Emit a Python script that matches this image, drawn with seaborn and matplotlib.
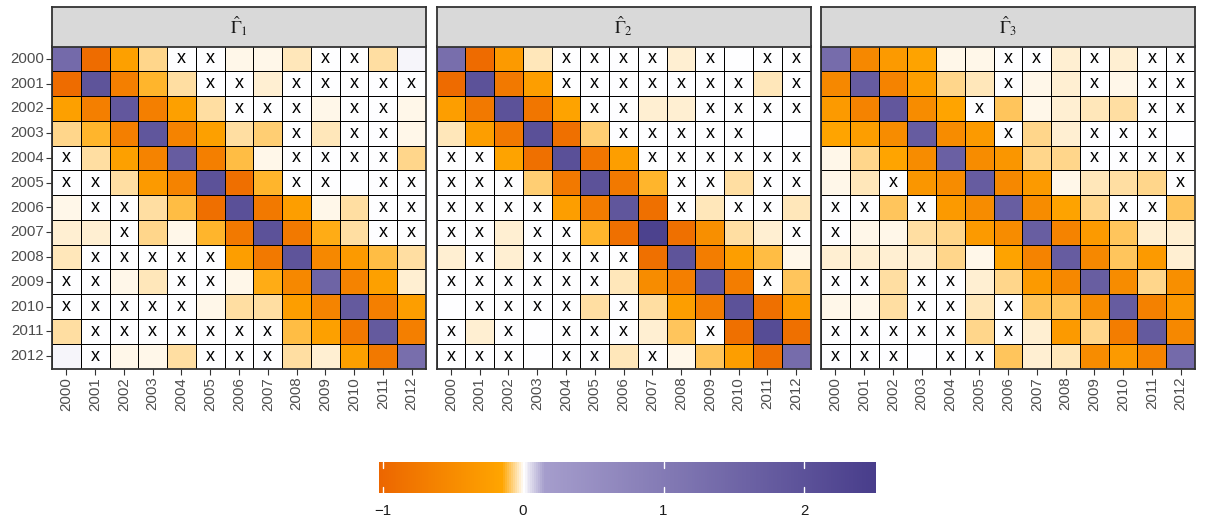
import numpy as np
import pandas as pd
import matplotlib
matplotlib.use("Agg")
import matplotlib.pyplot as plt
import seaborn as sns
from matplotlib.colors import LinearSegmentedColormap, Normalize
from matplotlib.cm import ScalarMappable

years = [str(y) for y in range(2000, 2013)]
panel_titles = [r"$\hat{\Gamma}_1$", r"$\hat{\Gamma}_2$", r"$\hat{\Gamma}_3$"]

gamma1_values = [
    [1.40, -0.94, -0.22, -0.07, 0, 0, -0.004, -0.012, -0.04, 0, 0, -0.05, 0.012],
    [-0.94, 1.95, -0.68, -0.12, -0.045, 0, 0, -0.025, 0, 0, 0, 0, 0],
    [-0.22, -0.68, 1.85, -0.68, -0.22, -0.045, 0, 0, 0, -0.004, 0, 0, -0.006],
    [-0.07, -0.12, -0.68, 1.90, -0.62, -0.22, -0.045, -0.08, 0, -0.04, 0, 0, -0.008],
    [0, -0.045, -0.22, -0.62, 1.75, -0.68, -0.11, -0.005, 0, 0, 0, 0, -0.06],
    [0, 0, -0.045, -0.30, -0.62, 2.00, -0.90, -0.12, 0, 0, -0.003, 0, 0],
    [-0.004, 0, 0, -0.045, -0.11, -0.90, 2.05, -0.75, -0.25, -0.008, -0.05, 0, 0],
    [-0.02, -0.03, 0, -0.07, -0.005, -0.12, -0.75, 2.00, -0.75, -0.14, -0.045, 0, 0],
    [-0.04, 0, 0, 0, 0, 0, -0.25, -0.75, 1.95, -0.55, -0.30, -0.11, -0.045],
    [0, 0, -0.004, -0.04, 0, 0, -0.008, -0.14, -0.55, 1.55, -0.62, -0.22, -0.025],
    [0, 0, 0, 0, 0, -0.004, -0.045, -0.045, -0.25, -0.60, 1.80, -0.68, -0.25],
    [-0.045, 0, 0, 0, 0, 0, 0, 0, -0.11, -0.22, -0.75, 1.80, -0.68],
    [0.015, 0, -0.004, -0.01, -0.05, 0, 0, 0, -0.045, -0.025, -0.22, -0.75, 1.30],
]
gamma1_marks = [
    "....xx...xx..",
    ".....xx.xxxxx",
    "......xxx.xx.",
    "........x.xx.",
    "x.......xxxx.",
    "xx......xx.xx",
    ".xx........xx",
    "..x........xx",
    ".xxxxx.......",
    "xx..xx.......",
    "xxxxx........",
    ".xxxxxxx.....",
    ".x...xxx.....",
]

gamma2_values = [
    [1.30, -0.95, -0.30, -0.04, 0, 0, 0, 0, -0.03, 0, 0.006, 0, 0],
    [-0.95, 2.00, -0.75, -0.25, 0, 0, 0, 0, 0, 0, 0, -0.04, 0],
    [-0.25, -0.75, 2.00, -0.80, -0.17, 0, 0, -0.025, -0.03, 0, 0, 0, 0],
    [-0.04, -0.25, -0.75, 2.05, -0.88, -0.08, 0, 0, 0, 0, 0, 0.004, 0.004],
    [0, 0, -0.17, -0.88, 2.05, -0.80, -0.25, 0, 0, 0, 0, 0, 0],
    [0, 0, 0, -0.08, -0.75, 2.00, -0.75, -0.12, 0, 0, -0.045, 0, 0],
    [0, 0, 0, 0, -0.25, -0.72, 1.90, -0.88, 0, -0.04, 0, 0, -0.04],
    [0, 0, -0.03, 0, 0, -0.12, -0.88, 2.40, -0.88, -0.45, -0.045, -0.02, 0],
    [-0.03, 0, -0.03, 0, 0, 0, 0, -0.88, 1.95, -0.70, -0.25, -0.10, -0.005],
    [0, 0, 0, 0, 0, 0, -0.04, -0.50, -0.68, 1.85, -0.70, 0, -0.09],
    [0.008, 0, 0, 0, 0, -0.05, 0, -0.045, -0.25, -0.70, 2.00, -0.88, -0.30],
    [0, -0.03, 0, 0.003, 0, 0, 0, -0.02, -0.09, 0, -0.88, 2.15, -0.88],
    [0, 0, 0, 0.004, 0, 0, -0.04, 0, -0.01, -0.09, -0.25, -0.88, 1.35],
]
gamma2_marks = [
    "....xxxx.x.xx",
    "....xxxxxxx.x",
    ".....xx..xxxx",
    "......xxxxx..",
    "xx.....xxxxxx",
    "xxx.....xx.xx",
    "xxxx....x.xx.",
    "xx.xx.......x",
    ".x.xxxx......",
    "xxxxxx.....x.",
    ".xxxx.x......",
    "x.x.xxx..x...",
    "xxx.xx.x.....",
]

gamma3_values = [
    [1.35, -0.55, -0.30, -0.17, -0.004, -0.004, 0, 0, -0.03, 0, -0.025, 0, 0],
    [-0.55, 1.75, -0.62, -0.25, -0.07, -0.04, 0, -0.004, -0.025, 0, -0.004, 0, 0],
    [-0.30, -0.62, 1.85, -0.50, -0.16, 0, -0.09, -0.007, -0.02, -0.04, -0.045, 0, 0],
    [-0.16, -0.25, -0.50, 1.75, -0.50, -0.30, 0, -0.06, -0.03, 0, 0, 0, 0.01],
    [-0.004, -0.07, -0.16, -0.50, 1.65, -0.50, -0.35, -0.07, -0.07, 0, 0, 0, 0],
    [-0.004, -0.04, 0, -0.35, -0.50, 1.75, -0.55, -0.30, -0.007, -0.04, -0.045, -0.07, 0],
    [0, 0, -0.09, 0, -0.30, -0.50, 1.70, -0.50, -0.17, -0.06, 0, 0, -0.09],
    [0, -0.004, -0.008, -0.045, -0.07, -0.30, -0.50, 1.70, -0.62, -0.30, -0.09, -0.02, -0.03],
    [-0.03, -0.03, -0.02, -0.03, -0.07, -0.01, -0.17, -0.62, 1.75, -0.55, -0.09, -0.30, -0.03],
    [0, 0, -0.045, 0, 0, -0.03, -0.06, -0.30, -0.55, 1.70, -0.50, -0.07, -0.45],
    [-0.008, -0.008, -0.045, 0, 0, -0.04, 0, -0.09, -0.09, -0.50, 1.75, -0.65, -0.35],
    [0, 0, 0, 0, 0, -0.07, 0, -0.02, -0.30, -0.07, -0.70, 1.80, -0.55],
    [0, 0, 0, 0.01, 0, 0, -0.09, -0.03, -0.035, -0.50, -0.30, -0.62, 1.40],
]
gamma3_marks = [
    "......xx.x.xx",
    "......x..x.xx",
    ".....x.....xx",
    "......x..xxx.",
    ".........xxxx",
    "..x.........x",
    "xx.x......xx.",
    "x............",
    ".............",
    "xx.xx........",
    "...xx.x......",
    "xxxxx.x......",
    "xxx.xx.......",
]

colorbar_ticks = [-1, 0, 1, 2]
colorbar_ticklabels = ["\u22121", "0", "1", "2"]

sns.set_style("white")
plt.rcParams["font.family"] = ["Liberation Sans", "DejaVu Sans"]
plt.rcParams["mathtext.fontset"] = "stix"

vmin, vmax = -1.026, 2.513
span = vmax - vmin
nodes = [
    (0.0, "#EC6600"),
    ((-0.15 - vmin) / span, "#FFA500"),
    ((0.0 - vmin) / span, "#FFFFFF"),
    ((0.15 - vmin) / span, "#A59DCC"),
    (1.0, "#483D8B"),
]
cmap = LinearSegmentedColormap.from_list("og_pu", nodes)

W, H = 1206, 520
fig = plt.figure(figsize=(W / 100, H / 100), dpi=100)

panel_lefts = [52, 436.5, 821]
panel_w = 374
cell_top, cell_bot = 46.5, 368.5
strip_top = 6.5

datasets = [(gamma1_values, gamma1_marks), (gamma2_values, gamma2_marks), (gamma3_values, gamma3_marks)]

for i, ((vals, marks), title) in enumerate(zip(datasets, panel_titles)):
    left = panel_lefts[i]
    ax = fig.add_axes([left / W, (H - cell_bot) / H, panel_w / W, (cell_bot - cell_top) / H])
    df = pd.DataFrame(np.array(vals, dtype=float), index=years, columns=years)
    labels = np.array([["x" if c == "x" else "" for c in row] for row in marks])
    sns.heatmap(df, ax=ax, cmap=cmap, vmin=vmin, vmax=vmax, cbar=False,
                linewidths=0.6, linecolor="black", annot=labels, fmt="",
                annot_kws=dict(fontsize=13, color="black"),
                xticklabels=years, yticklabels=years if i == 0 else False)
    ax.set_xlabel("")
    ax.set_ylabel("")
    ax.tick_params(axis="x", bottom=True, length=4, width=0.8, color="#333333",
                   labelsize=10.8, labelcolor="#4D4D4D", pad=2, labelrotation=90)
    ax.tick_params(axis="y", left=(i == 0), length=4, width=0.8, color="#333333",
                   labelsize=10.8, labelcolor="#4D4D4D", pad=2, labelrotation=0)
    for sp in ax.spines.values():
        sp.set_visible(True)
        sp.set_color("#333333")
        sp.set_linewidth(1.3)

    sax = fig.add_axes([left / W, (H - cell_top) / H, panel_w / W, (cell_top - strip_top) / H])
    sax.set_facecolor("#D9D9D9")
    sax.set_xticks([])
    sax.set_yticks([])
    for sp in sax.spines.values():
        sp.set_visible(True)
        sp.set_color("#333333")
        sp.set_linewidth(1.3)
    sax.text(0.5, 0.5, title, ha="center", va="center", fontsize=13, color="#1A1A1A",
             transform=sax.transAxes)

cb_left, cb_right, cb_top, cb_bot = 379, 876, 462, 493
cax = fig.add_axes([cb_left / W, (H - cb_bot) / H, (cb_right - cb_left) / W, (cb_bot - cb_top) / H])
sm = ScalarMappable(norm=Normalize(vmin=vmin, vmax=vmax), cmap=cmap)
cb = fig.colorbar(sm, cax=cax, orientation="horizontal")
cb.outline.set_visible(False)
cb.set_ticks(colorbar_ticks)
cb.set_ticklabels(colorbar_ticklabels)
cax.tick_params(axis="x", length=0, labelsize=10.8, labelcolor="#1A1A1A", pad=8)
xt = cax.get_xaxis_transform()
for t in colorbar_ticks:
    cax.plot([t, t], [0, 0.2], color="white", lw=1, transform=xt, zorder=5)
    cax.plot([t, t], [0.8, 1], color="white", lw=1, transform=xt, zorder=5)

fig.savefig("out.png", dpi=100)
